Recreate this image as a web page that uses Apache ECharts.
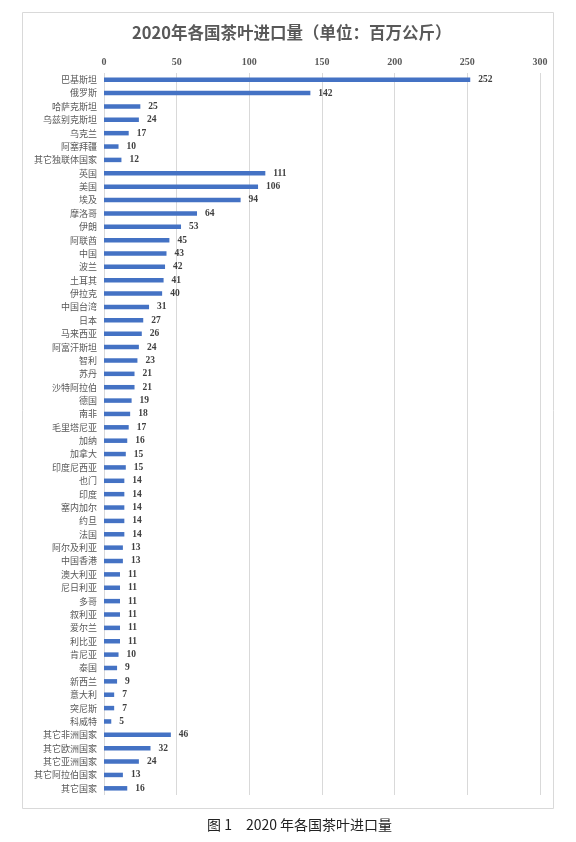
<!DOCTYPE html>
<html><head><meta charset="utf-8">
<script src="https://cdn.jsdelivr.net/npm/echarts@6/dist/echarts.min.js"></script>
<style>html,body{margin:0;padding:0;background:#fff;}#c{width:576px;height:842px;}</style>
</head><body><div id="c"></div>
<script>
var categories = ['巴基斯坦','俄罗斯','哈萨克斯坦','乌兹别克斯坦','乌克兰','阿塞拜疆','其它独联体国家','英国','美国','埃及','摩洛哥','伊朗','阿联酋','中国','波兰','土耳其','伊拉克','中国台湾','日本','马来西亚','阿富汗斯坦','智利','苏丹','沙特阿拉伯','德国','南非','毛里塔尼亚','加纳','加拿大','印度尼西亚','也门','印度','塞内加尔','约旦','法国','阿尔及利亚','中国香港','澳大利亚','尼日利亚','多哥','叙利亚','爱尔兰','利比亚','肯尼亚','泰国','新西兰','意大利','突尼斯','科威特','其它非洲国家','其它欧洲国家','其它亚洲国家','其它阿拉伯国家','其它国家'];
var values = [252,142,25,24,17,10,12,111,106,94,64,53,45,43,42,41,40,31,27,26,24,23,21,21,19,18,17,16,15,15,14,14,14,14,14,13,13,11,11,11,11,11,11,10,9,9,7,7,5,46,32,24,13,16];
var tickValues = [0,50,100,150,200,250,300];
var titleText = '2020年各国茶叶进口量（单位：百万公斤）';
var captionText = '图 1　2020 年各国茶叶进口量';

var chart = echarts.init(document.getElementById('c'), null, {renderer:'canvas'});
chart.setOption({
  animation:false,
  backgroundColor:'#fff',
  graphic:[{type:'rect',shape:{x:22.5,y:12.5,width:531,height:796},style:{fill:'none',stroke:'#d9d9d9',lineWidth:1},z:-1}],
  title:[
    {text:titleText,left:127,top:19,textStyle:{fontFamily:'Noto Sans CJK SC',fontSize:16.5,fontWeight:'bold',color:'#595959'}},
    {text:captionText,left:202,top:813,textStyle:{fontFamily:'Noto Sans CJK SC',fontSize:14,fontWeight:'normal',color:'#222'}}
  ],
  grid:{left:104,right:36,top:73,bottom:47},
  xAxis:{type:'value',position:'top',min:0,max:300,interval:50,
    axisLine:{show:false},axisTick:{show:false},
    splitLine:{lineStyle:{color:'#d9d9d9',width:1}},
    axisLabel:{margin:6,fontFamily:'Liberation Serif',fontSize:10,fontWeight:'bold',color:'#595959',
      formatter:function(v){return tickValues.indexOf(v)>=0?String(v):'';}}},
  yAxis:{type:'category',data:categories,inverse:true,
    axisLine:{show:false},axisTick:{show:false},
    axisLabel:{interval:0,margin:7,fontFamily:'Noto Sans CJK SC',fontSize:9,color:'#595959'}},
  series:[{type:'bar',data:values,barWidth:4.5,
    itemStyle:{color:'#4472c4'},
    label:{show:true,position:'right',distance:8,fontFamily:'Liberation Serif',fontSize:9.5,fontWeight:'bold',color:'#404040'}}]
});
</script></body></html>
